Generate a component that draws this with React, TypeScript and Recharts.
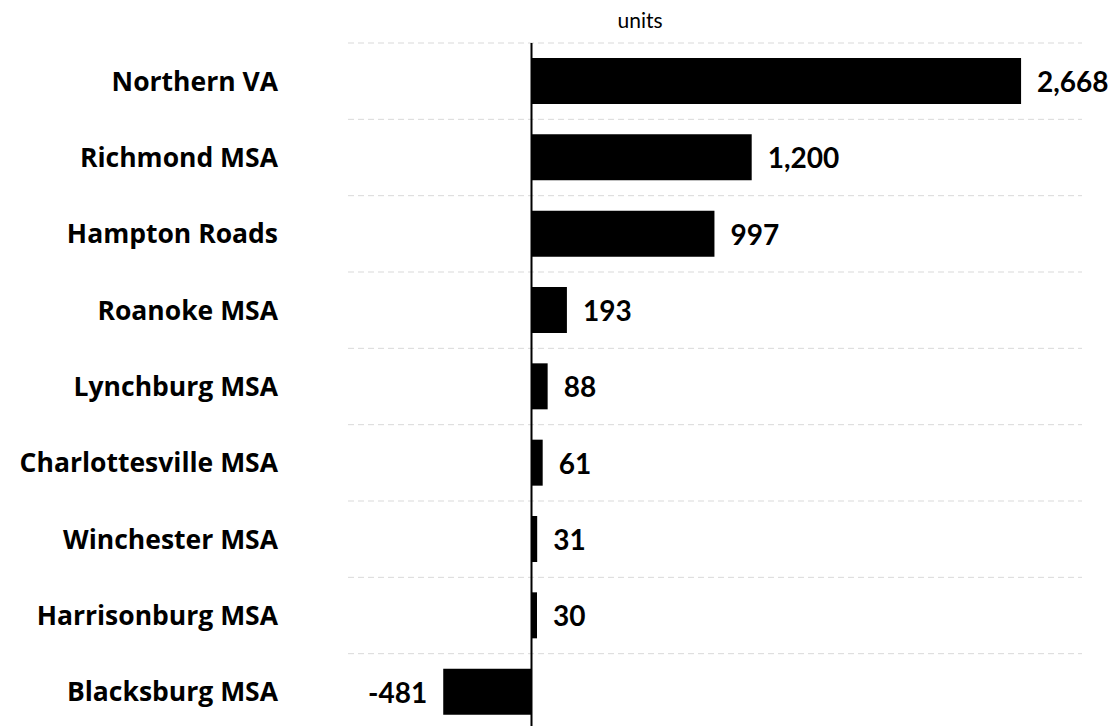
import React from "react";
import { BarChart, Bar, XAxis, YAxis, CartesianGrid, ReferenceLine, LabelList } from "recharts";

const categories = [
  "Northern VA",
  "Richmond MSA",
  "Hampton Roads",
  "Roanoke MSA",
  "Lynchburg MSA",
  "Charlottesville MSA",
  "Winchester MSA",
  "Harrisonburg MSA",
  "Blacksburg MSA",
];
const unitValues = [2668, 1200, 997, 193, 88, 61, 31, 30, -481];
const unitLabel = "units";

const data = categories.map((name, i) => ({ name, value: unitValues[i] }));

const FONT = "Lato, 'Open Sans', sans-serif";
const CAT_FONT = "'Open Sans', Lato, sans-serif";

const ValueLabel = (props: any) => {
  const { x, y, width, height, value } = props;
  const left = Math.min(x, x + width);
  const right = Math.max(x, x + width);
  const cy = y + height / 2;
  const neg = value < 0;
  return (
    <text
      x={neg ? left - 16 : right + 16}
      y={cy}
      textAnchor={neg ? "end" : "start"}
      dominantBaseline="central"
      fontFamily={FONT}
      fontWeight={700}
      fontSize={28}
      fill="#000"
    >
      {Number(value).toLocaleString("en-US")}
    </text>
  );
};

const gridGen = (args: any) => {
  const { yAxis, offset } = args;
  const n = categories.length;
  const scale = yAxis && yAxis.scale;
  if (scale && typeof scale === "function" && typeof scale.bandwidth === "function") {
    return categories.map((c) => scale(c));
  }
  return categories.map((_, i) => offset.top + (i * offset.height) / n);
};

export default function App() {
  return (
    <div
      style={{
        position: "fixed",
        left: 0,
        top: 0,
        width: 1114,
        height: 726,
        overflow: "hidden",
        background: "#fff",
      }}
    >
      <div
        style={{
          position: "absolute",
          left: 540,
          width: 200,
          top: 7,
          textAlign: "center",
          fontFamily: FONT,
          fontSize: 21,
          lineHeight: "26px",
          color: "#000",
        }}
      >
        {unitLabel}
      </div>
      <BarChart
        width={1114}
        height={730}
        data={data}
        layout="vertical"
        margin={{ top: 43, right: 32, bottom: 0, left: 0 }}
        barCategoryGap="20%"
      >
        <CartesianGrid
          horizontal={true}
          vertical={false}
          stroke="#d9d9d9"
          strokeDasharray="6 4"
          horizontalCoordinatesGenerator={gridGen}
        />
        <XAxis type="number" domain={[-1000, 3000]} hide allowDataOverflow />
        <YAxis
          type="category"
          dataKey="name"
          width={348}
          axisLine={false}
          tickLine={false}
          tickMargin={64}
          interval={0}
          tick={{ fontFamily: CAT_FONT, fontWeight: 700, fontSize: 26.5, fill: "#000" }}
        />
        <Bar dataKey="value" fill="#000" barSize={46} isAnimationActive={false}>
          <LabelList dataKey="value" content={<ValueLabel />} />
        </Bar>
        <ReferenceLine x={0} stroke="#000" strokeWidth={2} ifOverflow="extendDomain" />
      </BarChart>
    </div>
  );
}
